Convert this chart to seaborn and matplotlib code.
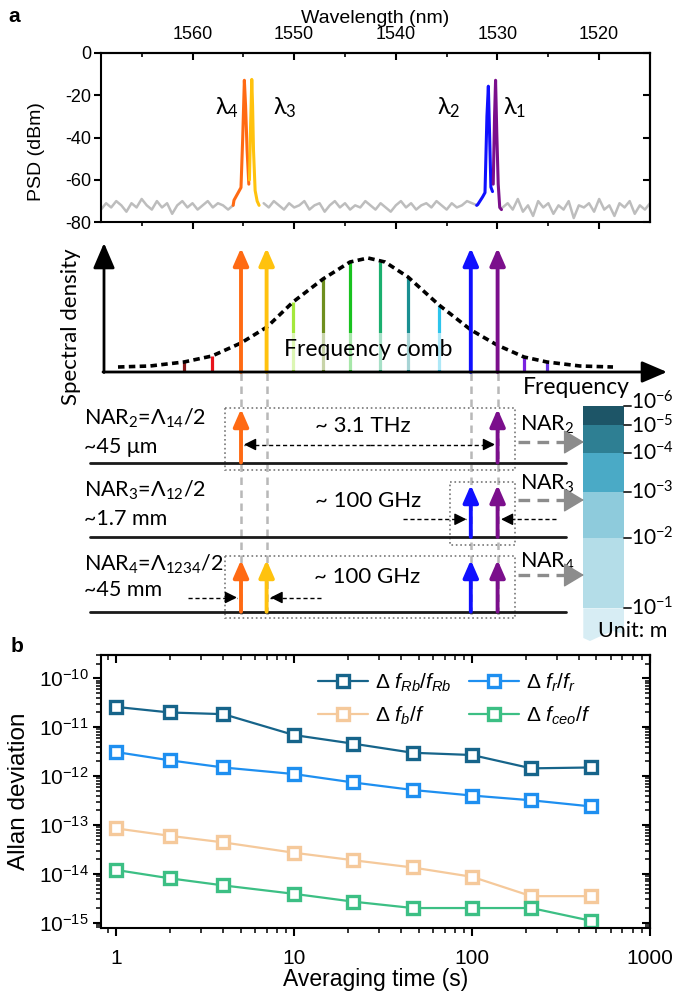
import numpy as np
import pandas as pd
import seaborn as sns
import matplotlib.pyplot as plt
from matplotlib.patches import Rectangle, Polygon
from matplotlib.ticker import FixedLocator, NullFormatter, FixedFormatter, LogLocator

# --- 1. theme / fonts ---
sns.set_theme(style='ticks', rc={'axes.edgecolor': 'black', 'xtick.color': 'black', 'ytick.color': 'black',
                                 'text.color': 'black', 'axes.labelcolor': 'black'})
plt.rcParams['font.family'] = ['Liberation Sans', 'DejaVu Sans']
plt.rcParams.update({'mathtext.fontset': 'custom', 'mathtext.rm': 'Liberation Sans',
                     'mathtext.it': 'Liberation Sans:italic', 'mathtext.bf': 'Liberation Sans:bold',
                     'axes.linewidth': 1.5})
SK_FONT = ['Lato', 'Noto Sans', 'DejaVu Sans']

# --- 2. data: panel a, optical spectrum ---
wl_noise = np.arange(1569.0, 1514.9, -0.5)
psd_noise = [-74, -71, -73, -70, -72, -75, -71, -73, -69, -72, -74, -70, -73, -71, -76, -72, -70, -73,
             -71, -74, -72, -70, -73, -71, -72, -74, -72,
             np.nan, np.nan, np.nan, np.nan, np.nan,
             -71, -73, -70, -72, -74, -71, -73, -72, -70, -74, -72, -71, -75, -72, -70, -73, -71, -74,
             -72, -73, -70, -72, -74, -71, -73, -75, -72, -70, -73, -71, -74, -72, -71, -73, -70, -72,
             -74, -71, -73, -72, -70, -71, -72,
             np.nan, np.nan, np.nan, np.nan,
             -73, -71, -74, -69, -75, -72, -77, -70, -73, -71, -76, -72, -74, -70, -78, -72, -73, -71,
             -75, -69, -74, -72, -77, -71, -73, -70, -76, -72, -74, -71]

wl_l4 = [1556.0, 1555.92, 1555.23, 1555.06, 1554.9, 1554.78, 1554.63, 1554.46]
psd_l4 = [-72, -69.6, -63.6, -40, -13, -25, -46, -62]
wl_l3 = [1554.40, 1554.29, 1554.17, 1554.09, 1554.0, 1553.84, 1553.64, 1553.45]
psd_l3 = [-60, -35, -12.6, -25, -46, -65, -70, -72]
wl_l2 = [1532.05, 1531.94, 1531.46, 1531.23, 1531.04, 1530.90, 1530.78, 1530.65, 1530.49]
psd_l2 = [-72, -71.6, -68, -66, -30, -15.8, -38, -63.4, -65.5]
wl_l1 = [1530.42, 1530.29, 1530.19, 1530.07, 1529.93, 1529.78, 1529.61]
psd_l1 = [-62, -30, -13, -38, -62, -73, -74]
peak_colors = ['#ff6a13', '#ffc20e', '#1010ff', '#7b0f8c']
wl_ticks = [1560, 1550, 1540, 1530, 1520]

# --- 3. data: panel a, comb schematic ---
tone_x = [183.6, 211.7, 241, 266.6, 293.4, 322.8, 350, 380, 408.4, 439, 470.8, 497.6, 524, 546.8]
tone_top = [362, 356, 248, 248, 302, 279, 262, 262, 277, 305, 248, 248, 357, 362]
tone_colors = ['#8b1a1a', '#e8141c', '#ff6a13', '#ffc20e', '#a4e83c', '#6f8f1f', '#19c21f', '#1aaf6e',
               '#1a8f92', '#2cc4ec', '#1010ff', '#7b0f8c', '#7a22e0', '#6a35e6']
laser_idx = [2, 3, 10, 11]
env_x = [118, 150, 184, 212, 241, 267, 293, 323, 350, 368, 385, 408, 439, 471, 497, 524, 547, 580, 613]
env_y = [367, 366, 362, 356, 343, 327, 302, 279, 262, 258, 262, 277, 305, 330, 345, 357, 362, 366, 367]

nar_names = [r'NAR$_\mathdefault{2}$=Λ$_\mathdefault{14}$/2', r'NAR$_\mathdefault{3}$=Λ$_\mathdefault{12}$/2',
             r'NAR$_\mathdefault{4}$=Λ$_\mathdefault{1234}$/2']
nar_values = ['~45 μm', '~1.7 mm', '~45 mm']
nar_tags = [r'NAR$_\mathdefault{2}$', r'NAR$_\mathdefault{3}$', r'NAR$_\mathdefault{4}$']
nar_gaps = ['~ 3.1 THz', '~ 100 GHz', '~ 100 GHz']
nar_lasers = [[2, 11], [10, 11], [2, 3, 10, 11]]

cb_labels = [r'$\mathdefault{10^{-6}}$', r'$\mathdefault{10^{-5}}$', r'$\mathdefault{10^{-4}}$',
             r'$\mathdefault{10^{-3}}$', r'$\mathdefault{10^{-2}}$', r'$\mathdefault{10^{-1}}$']
cb_colors = ['#1d5567', '#2e7f93', '#4aaac6', '#8ecbdc', '#b4dde8']

# --- 4. data: panel b, Allan deviation ---
tau = [1, 2, 4, 10, 21.5, 46.4, 100, 215, 464]
adev = {
    r'$\mathit{Δ\ f_{Rb}/f_{Rb}}$': [2.6e-11, 2.0e-11, 1.85e-11, 6.9e-12, 4.6e-12, 3.0e-12, 2.7e-12, 1.44e-12, 1.5e-12],
    r'$\mathit{Δ\ f_b/f}$': [8.5e-14, 6.0e-14, 4.4e-14, 2.7e-14, 1.9e-14, 1.35e-14, 8.7e-15, 3.5e-15, 3.5e-15],
    r'$\mathit{Δ\ f_r/f_r}$': [3.1e-12, 2.1e-12, 1.5e-12, 1.1e-12, 7.4e-13, 5.2e-13, 4.0e-13, 3.2e-13, 2.4e-13],
    r'$\mathit{Δ\ f_{ceo}/f}$': [1.2e-14, 8.1e-15, 5.8e-15, 3.9e-15, 2.7e-15, 2.0e-15, 2.0e-15, 2.0e-15, 1.1e-15],
}
adev_colors = ['#16648a', '#f5c99b', '#1e8ff0', '#3cbf84']

W, H = 685, 991
fig = plt.figure(figsize=(W / 100, H / 100), dpi=100)


def px_axes(l, t, r, b):
    return fig.add_axes([l / W, 1 - b / H, (r - l) / W, (b - t) / H])


# --- 5. panel a: spectrum ---
ax1 = px_axes(101, 52.7, 650, 222.3)
ax1.plot(wl_noise, psd_noise, color='#bdbdbd', lw=1.8)
for wl, p, c in zip([wl_l4, wl_l3, wl_l2, wl_l1], [psd_l4, psd_l3, psd_l2, psd_l1], peak_colors):
    sns.lineplot(x=wl, y=p, ax=ax1, color=c, lw=2.2, sort=False)
ax1.set_xlim(1569, 1515)
ax1.set_ylim(-80, 0)
ax1.set_yticks([0, -20, -40, -60, -80])
ax1.set_yticklabels(['0', '-20', '-40', '-60', '-80'])
ax1.xaxis.set_major_locator(FixedLocator(wl_ticks))
ax1.xaxis.set_minor_locator(FixedLocator([1565, 1555, 1545, 1535, 1525]))
ax1.xaxis.set_major_formatter(NullFormatter())
ax1.tick_params(axis='both', which='major', direction='out', length=5, width=1.5, labelsize=13, pad=2)
ax1.tick_params(axis='x', which='minor', direction='out', length=3, width=1.2)
ax1.set_ylabel('PSD (dBm)', fontsize=14)
ax1.yaxis.set_label_coords(-0.102, 0.42)
top1 = ax1.secondary_xaxis('top')
top1.xaxis.set_major_locator(FixedLocator(wl_ticks))
top1.xaxis.set_minor_locator(FixedLocator([1565, 1555, 1545, 1535, 1525]))
top1.tick_params(which='major', direction='in', length=5, width=1.5, labelsize=13, pad=7)
top1.tick_params(which='minor', direction='in', length=3, width=1.2)
top1.set_xlabel('Wavelength (nm)', fontsize=14, labelpad=2)
right1 = ax1.secondary_yaxis('right')
right1.set_yticks([0, -20, -40, -60, -80])
right1.tick_params(direction='in', length=5, width=1.5, labelright=False)
for x, lab in zip([1556.6, 1550.9, 1534.8, 1528.3], ['λ$_\\mathdefault{4}$', 'λ$_\\mathdefault{3}$',
                                                     'λ$_\\mathdefault{2}$', 'λ$_\\mathdefault{1}$']):
    ax1.text(x, -26, lab, fontsize=17, ha='center', va='center', family=SK_FONT)

# --- 6. panel a: schematic (pixel coordinates) ---
sk = fig.add_axes([0, 0, 1, 1])
sk.set_xlim(0, W)
sk.set_ylim(H, 0)
sk.axis('off')
sk.patch.set_alpha(0)

head = dict(color='black', lw=2, mutation_scale=22, shrinkA=0, shrinkB=0,
            arrowstyle='-|>,head_length=0.7,head_width=0.3')
sk.annotate('', xy=(104, 243), xytext=(104, 372.5), arrowprops=head, zorder=6)
sk.annotate('', xy=(667, 372), xytext=(103, 372), arrowprops=head, zorder=6)
sk.text(71, 327, 'Spectral density', rotation=90, ha='center', va='center', fontsize=16, family=SK_FONT)
sk.text(576, 388, 'Frequency', ha='center', va='center', fontsize=16.5, family=SK_FONT)

for i, (x, top, c) in enumerate(zip(tone_x, tone_top, tone_colors)):
    if i in laser_idx:
        sk.annotate('', xy=(x, top), xytext=(x, 372),
                    arrowprops=dict(arrowstyle='-|>,head_length=0.8,head_width=0.35', color=c, lw=2.8,
                                    mutation_scale=13, shrinkA=0, shrinkB=0), zorder=5)
        sk.plot([x, x], [373, 618], color='#b8b8b8', lw=1.8, dashes=(3, 2.2), zorder=1)
    else:
        sk.plot([x, x], [372, top], color=c, lw=2.3, solid_capstyle='butt', zorder=2)
sk.plot(env_x, env_y, color='black', lw=2.6, dashes=(1.8, 1.2), zorder=4)
sk.add_patch(Rectangle((281, 333), 175, 37, fc='white', ec='none', alpha=0.62, zorder=3))
sk.text(368, 349, 'Frequency comb', ha='center', va='center', fontsize=16.5, family=SK_FONT, zorder=4)

rows = [dict(t1=418, t2=447, base=462.5, tip=409, box=(225, 408, 515, 470), tag=430, gap=(363, 426), gray=442),
        dict(t1=490, t2=519, base=537, tip=485, box=(450, 482, 515, 545), tag=489, gap=(368, 501), gray=500),
        dict(t1=564, t2=590, base=611.7, tip=560, box=(225, 556, 515, 618), tag=567, gap=(367, 577), gray=575)]
for r, name, val, tag, gtxt, las in zip(rows, nar_names, nar_values, nar_tags, nar_gaps, nar_lasers):
    sk.text(84, r['t1'], name, ha='left', va='center', fontsize=15.5, family=SK_FONT)
    sk.text(84, r['t2'], val, ha='left', va='center', fontsize=15.5, family=SK_FONT)
    sk.plot([90, 566], [r['base'], r['base']], color='#1a1a1a', lw=2, zorder=3)
    l, t, rr, b = r['box']
    sk.add_patch(Rectangle((l, t), rr - l, b - t, fill=False, ec='#777777', lw=1.2, ls=':', zorder=2))
    for i in las:
        sk.annotate('', xy=(tone_x[i], r['tip']), xytext=(tone_x[i], r['base']),
                    arrowprops=dict(arrowstyle='-|>,head_length=0.8,head_width=0.35', color=tone_colors[i],
                                    lw=2.8, mutation_scale=13, shrinkA=0, shrinkB=0), zorder=5)
    sk.text(r['gap'][0], r['gap'][1], gtxt, ha='center', va='center', fontsize=16, family=SK_FONT)
    sk.text(520, r['tag'], tag, ha='left', va='baseline', fontsize=15.5, family=SK_FONT)
    sk.plot([518, 572], [r['gray'], r['gray']], color='#8c8c8c', lw=2.4, dashes=(3.5, 2.2))
    sk.annotate('', xy=(584, r['gray']), xytext=(572, r['gray']),
                arrowprops=dict(arrowstyle='-|>,head_length=1.0,head_width=0.6', color='#8c8c8c', lw=1,
                                mutation_scale=13, shrinkA=0, shrinkB=0))

small = dict(arrowstyle='-|>,head_length=0.8,head_width=0.4', color='black', lw=1, mutation_scale=9,
             shrinkA=0, shrinkB=0)


def dashed_arrow(x0, x1, y):
    sk.plot([x0, x1], [y, y], color='black', lw=1, dashes=(3, 2))
    step = 6 if x1 > x0 else -6
    sk.annotate('', xy=(x1, y), xytext=(x1 - step, y), arrowprops=small)


dashed_arrow(370, 244, 444.5)
dashed_arrow(370, 495, 444.5)
dashed_arrow(403, 466.5, 519.3)
dashed_arrow(556, 501, 519.3)
dashed_arrow(188, 237, 597.5)
dashed_arrow(321, 270.5, 597.5)

# colour scale of NAR lengths
cb_edges = [406, 425, 453.3, 491.7, 537.7, 608.3]
for y0, y1, c in zip(cb_edges[:-1], cb_edges[1:], cb_colors):
    sk.bar(603.7, y1 - y0, width=40.7, bottom=y0, color=c, edgecolor='none', zorder=2)
sk.add_patch(Polygon([(583.3, 608.3), (624, 608.3), (624, 634), (613, 631), (601, 636), (590, 641), (583.3, 638)],
                     closed=True, fc='#d7edf4', ec='none', zorder=2))
for k, (y, lab) in enumerate(zip(cb_edges, cb_labels)):
    sk.plot([624, 631], [y, y], color='#333333', lw=1.4, zorder=3)
    sk.text(631, y - (4 if k == 0 else 0) + (1 if k == 1 else 0), lab, ha='left', va='center',
            fontsize=15, family=SK_FONT)
sk.text(633, 631, 'Unit: m', ha='center', va='center', fontsize=15.5, family=SK_FONT, zorder=4)

fig.text(14 / W, 1 - 17 / H, 'a', fontsize=15, fontweight='bold', ha='center', va='center')
fig.text(17 / W, 1 - 646 / H, 'b', fontsize=15, fontweight='bold', ha='center', va='center')

# --- 7. panel b: Allan deviation ---
ax2 = px_axes(101, 655, 650, 928.3)
for (lab, vals), c in zip(adev.items(), adev_colors):
    sns.lineplot(x=tau, y=vals, ax=ax2, color=c, lw=1.6, marker='s', markersize=9, markerfacecolor='white',
                 markeredgecolor=c, markeredgewidth=2.4, label=lab)
ax2.set_xscale('log')
ax2.set_yscale('log')
ax2.set_xlim(0.82, 1000)
ax2.set_ylim(7.7e-16, 3.0e-10)
ax2.xaxis.set_major_locator(FixedLocator([1, 10, 100, 1000]))
ax2.xaxis.set_major_formatter(FixedFormatter(['1', '10', '100', '1000']))
ax2.xaxis.set_minor_locator(LogLocator(base=10, subs=np.arange(2, 10)))
ax2.xaxis.set_minor_formatter(NullFormatter())
ax2.yaxis.set_major_locator(FixedLocator([1e-15, 1e-14, 1e-13, 1e-12, 1e-11, 1e-10]))
ax2.yaxis.set_minor_locator(LogLocator(base=10, subs=np.arange(2, 10)))
ax2.yaxis.set_minor_formatter(NullFormatter())
ax2.tick_params(which='major', direction='out', length=6, width=1.5, labelsize=15, pad=3)
ax2.tick_params(axis='x', which='major', pad=9)
ax2.tick_params(which='minor', direction='out', length=3.5, width=1.1)
top2 = ax2.secondary_xaxis('top')
top2.xaxis.set_major_locator(FixedLocator([1, 10, 100, 1000]))
top2.xaxis.set_minor_locator(LogLocator(base=10, subs=np.arange(2, 10)))
top2.tick_params(which='major', direction='in', length=6, width=1.5, labeltop=False)
top2.tick_params(which='minor', direction='in', length=3.5, width=1.1, labeltop=False)
top2.xaxis.set_minor_formatter(NullFormatter())
right2 = ax2.secondary_yaxis('right')
right2.yaxis.set_major_locator(FixedLocator([1e-15, 1e-14, 1e-13, 1e-12, 1e-11, 1e-10]))
right2.yaxis.set_minor_locator(LogLocator(base=10, subs=np.arange(2, 10)))
right2.tick_params(which='major', direction='in', length=6, width=1.5, labelright=False)
right2.tick_params(which='minor', direction='in', length=3.5, width=1.1, labelright=False)
ax2.set_xlabel('Averaging time (s)', fontsize=16.5, labelpad=0)
ax2.set_ylabel('Allan deviation', fontsize=17.5, labelpad=6)
ax2.legend(ncol=2, loc='upper left', bbox_to_anchor=(0.365, 1.0), frameon=False, fontsize=15,
           handlelength=2.4, handletextpad=0.35, columnspacing=0.8, labelspacing=0.5, borderaxespad=0.4)

fig.savefig('out.png', dpi=100)
